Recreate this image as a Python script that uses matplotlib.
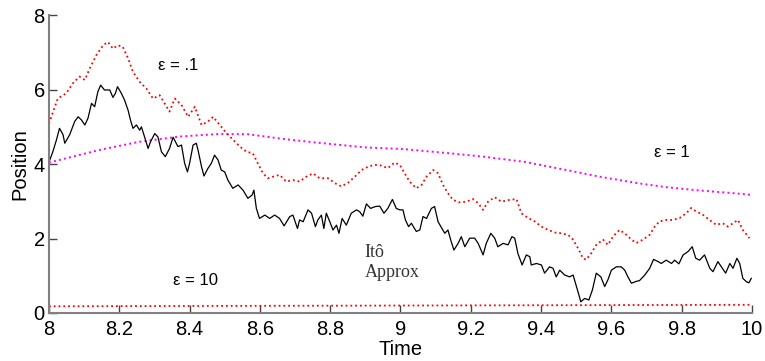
import matplotlib
matplotlib.use("Agg")
import matplotlib.pyplot as plt

# Itô approximation (black, noisy)
ito_t = [8.000, 8.011, 8.021, 8.030, 8.040, 8.045, 8.059, 8.073, 8.083, 8.092,
         8.102, 8.111, 8.121, 8.130, 8.139, 8.147, 8.158, 8.173, 8.182, 8.189,
         8.195, 8.206, 8.215, 8.225, 8.232, 8.239, 8.249, 8.258, 8.263, 8.272,
         8.282, 8.289, 8.301, 8.310, 8.320, 8.331, 8.343, 8.353, 8.367, 8.377,
         8.386, 8.394, 8.400, 8.410, 8.419, 8.424, 8.434, 8.441, 8.452, 8.462,
         8.471, 8.481, 8.490, 8.500, 8.509, 8.523, 8.538, 8.552, 8.566, 8.578,
         8.583, 8.590, 8.599, 8.614, 8.628, 8.642, 8.656, 8.669, 8.685, 8.694,
         8.707, 8.713, 8.723, 8.737, 8.747, 8.758, 8.765, 8.775, 8.782, 8.789,
         8.799, 8.808, 8.818, 8.825, 8.834, 8.846, 8.860, 8.875, 8.884, 8.893,
         8.903, 8.915, 8.929, 8.941, 8.953, 8.964, 8.977, 8.988, 8.998, 9.007,
         9.014, 9.023, 9.031, 9.045, 9.055, 9.064, 9.074, 9.088, 9.097, 9.107,
         9.118, 9.126, 9.135, 9.143, 9.152, 9.164, 9.173, 9.183, 9.197, 9.211,
         9.221, 9.235, 9.244, 9.257, 9.268, 9.277, 9.292, 9.306, 9.317, 9.325,
         9.334, 9.346, 9.358, 9.368, 9.372, 9.387, 9.401, 9.410, 9.424, 9.434,
         9.443, 9.453, 9.467, 9.481, 9.491, 9.505, 9.513, 9.524, 9.536, 9.546,
         9.557, 9.570, 9.581, 9.590, 9.600, 9.614, 9.628, 9.638, 9.647, 9.657,
         9.671, 9.680, 9.695, 9.709, 9.720, 9.733, 9.742, 9.756, 9.771, 9.780,
         9.792, 9.804, 9.818, 9.830, 9.840, 9.851, 9.865, 9.880, 9.889, 9.903,
         9.913, 9.925, 9.937, 9.946, 9.957, 9.965, 9.974, 9.984, 9.991, 9.998]
ito_x = [4.05, 4.33, 4.64, 4.96, 4.79, 4.56, 4.79, 5.14, 5.27, 5.19,
         5.05, 5.23, 5.63, 5.54, 5.94, 6.12, 5.99, 5.99, 5.79, 5.90,
         6.08, 5.90, 5.72, 5.45, 5.18, 4.96, 5.05, 4.91, 5.00, 4.73,
         4.42, 4.60, 4.82, 4.73, 4.33, 4.20, 4.42, 4.72, 4.47, 4.51,
         4.02, 3.79, 4.02, 4.51, 4.56, 4.38, 3.93, 3.68, 3.88, 4.02,
         4.24, 4.11, 3.84, 3.79, 3.57, 3.35, 3.44, 3.30, 3.08, 3.17,
         3.30, 2.81, 2.54, 2.63, 2.54, 2.63, 2.54, 2.34, 2.59, 2.63,
         2.27, 2.50, 2.45, 2.77, 2.68, 2.32, 2.50, 2.63, 2.27, 2.68,
         2.45, 2.23, 2.36, 2.14, 2.54, 2.36, 2.68, 2.77, 2.72, 2.60,
         2.93, 2.81, 2.86, 2.87, 2.68, 2.81, 3.05, 2.81, 2.77, 2.77,
         2.50, 2.32, 2.41, 2.19, 2.23, 2.59, 2.54, 2.81, 2.86, 2.45,
         2.27, 2.14, 2.23, 1.96, 1.69, 1.87, 2.05, 1.78, 2.01, 2.01,
         1.87, 1.56, 1.87, 2.14, 2.01, 1.78, 1.87, 1.83, 2.05, 2.01,
         1.60, 1.29, 1.56, 1.51, 1.29, 1.33, 1.29, 1.07, 1.24, 1.20,
         0.97, 1.15, 1.02, 0.97, 1.02, 0.57, 0.30, 0.39, 0.35, 0.62,
         1.07, 0.97, 0.71, 0.89, 1.15, 1.24, 1.24, 1.15, 0.97, 0.80,
         0.85, 0.87, 1.02, 1.20, 1.44, 1.38, 1.33, 1.42, 1.33, 1.42,
         1.32, 1.56, 1.65, 1.78, 1.47, 1.42, 1.56, 1.20, 1.11, 1.38,
         1.24, 1.07, 1.33, 1.20, 1.47, 1.33, 0.93, 0.84, 0.81, 0.93]

# epsilon = .1 (red dotted)
eps01_t = [8.000, 8.010, 8.025, 8.049, 8.068, 8.087, 8.102, 8.116, 8.135, 8.154,
           8.168, 8.182, 8.196, 8.210, 8.225, 8.239, 8.258, 8.277, 8.296, 8.315,
           8.329, 8.343, 8.358, 8.377, 8.396, 8.415, 8.434, 8.452, 8.467, 8.486,
           8.505, 8.524, 8.543, 8.562, 8.580, 8.594, 8.609, 8.623, 8.637, 8.656,
           8.675, 8.694, 8.713, 8.732, 8.751, 8.770, 8.794, 8.813, 8.832, 8.851,
           8.870, 8.889, 8.908, 8.926, 8.945, 8.964, 8.983, 8.998, 9.012, 9.026,
           9.045, 9.060, 9.074, 9.093, 9.107, 9.121, 9.135, 9.149, 9.168, 9.187,
           9.206, 9.221, 9.235, 9.249, 9.268, 9.287, 9.311, 9.330, 9.344, 9.363,
           9.382, 9.401, 9.420, 9.440, 9.458, 9.477, 9.491, 9.505, 9.519, 9.528,
           9.543, 9.557, 9.576, 9.590, 9.605, 9.623, 9.638, 9.657, 9.671, 9.690,
           9.709, 9.723, 9.737, 9.756, 9.775, 9.794, 9.813, 9.827, 9.841, 9.860,
           9.879, 9.898, 9.917, 9.931, 9.946, 9.960, 9.974, 9.993]
eps01_x = [5.09, 5.36, 5.76, 5.90, 6.17, 6.35, 6.26, 6.57, 6.93, 7.19,
           7.28, 7.10, 7.19, 7.15, 6.84, 6.48, 6.21, 6.03, 5.76, 5.85,
           5.63, 5.41, 5.76, 5.59, 5.27, 5.54, 5.05, 5.14, 5.27, 5.05,
           4.83, 4.65, 4.47, 4.33, 4.29, 4.02, 3.75, 3.62, 3.66, 3.71,
           3.53, 3.57, 3.53, 3.66, 3.75, 3.62, 3.62, 3.49, 3.40, 3.50,
           3.66, 3.84, 3.93, 3.98, 3.96, 3.89, 4.04, 3.98, 3.75, 3.53,
           3.35, 3.44, 3.66, 3.84, 3.75, 3.44, 3.22, 3.04, 2.97, 2.99,
           3.06, 2.95, 2.77, 2.99, 3.11, 2.99, 3.04, 3.06, 2.68, 2.55,
           2.46, 2.32, 2.23, 2.16, 2.14, 2.10, 1.97, 1.74, 1.47, 1.43,
           1.61, 1.83, 1.97, 1.83, 2.06, 2.23, 2.14, 1.97, 1.88, 1.97,
           2.10, 2.32, 2.46, 2.50, 2.50, 2.55, 2.68, 2.82, 2.73, 2.64,
           2.50, 2.37, 2.41, 2.32, 2.41, 2.50, 2.23, 2.01]

# epsilon = 1 (magenta dotted)
eps1_t = [8.0, 8.144, 8.258, 8.372, 8.486, 8.568, 8.671, 8.758, 8.897, 9.012,
          9.14, 9.235, 9.353, 9.472, 9.567, 9.68, 9.756, 9.851, 9.946, 10.0]
eps1_x = [4.04, 4.38, 4.60, 4.74, 4.81, 4.80, 4.67, 4.58, 4.45, 4.40,
          4.29, 4.20, 4.06, 3.84, 3.66, 3.48, 3.38, 3.29, 3.22, 3.17]

# epsilon = 10 (red dotted, near zero)
eps10_t = [8.0, 9.0, 10.0]
eps10_x = [0.18, 0.20, 0.22]

xticks = [8, 8.2, 8.4, 8.6, 8.8, 9, 9.2, 9.4, 9.6, 9.8, 10]
xticklabels = ["8", "8.2", "8.4", "8.6", "8.8", "9", "9.2", "9.4", "9.6", "9.8", "10"]
yticks = [0, 2, 4, 6, 8]

plt.rcParams['font.family'] = ['Liberation Sans', 'DejaVu Sans']

fig = plt.figure(figsize=(7.65, 3.61), dpi=100)
ax = fig.add_axes([0.064, 0.133, 0.919, 0.825])

ax.plot(eps10_t, eps10_x, color='#ff0000', linestyle=':', linewidth=1.3)
ax.plot(eps1_t, eps1_x, color='#ff00ff', linestyle=':', linewidth=1.4)
ax.plot(eps01_t, eps01_x, color='#ff0000', linestyle=':', linewidth=1.3)
ax.plot(ito_t, ito_x, color='black', linewidth=0.9)

ax.set_xlim(8, 10)
ax.set_ylim(0, 8)
ax.set_xticks(xticks)
ax.set_xticklabels(xticklabels)
ax.set_yticks(yticks)
ax.tick_params(direction='in', length=6, width=1, colors='#444444',
               labelcolor='black', labelsize=14.5)
ax.tick_params(axis='x', pad=5)
ax.tick_params(axis='y', pad=3)

for side in ['top', 'right']:
    ax.spines[side].set_visible(False)
for side in ['left', 'bottom']:
    ax.spines[side].set_color('#808080')
    ax.spines[side].set_linewidth(1.5)

ax.set_xlabel("Time", fontsize=14.5, labelpad=1)
ax.set_ylabel("Position", fontsize=14.5, labelpad=3)

ax.text(8.31, 6.66, "ε = .1", fontsize=12, va='center', ha='left')
ax.text(9.72, 4.32, "ε = 1", fontsize=12, va='center', ha='left')
ax.text(8.352, 0.86, "ε = 10", fontsize=12, va='center', ha='left')
ax.text(8.898, 1.85, "Itô\nApprox", fontsize=13, va='top', ha='left',
        family=['Liberation Serif', 'DejaVu Serif'], color='#333333',
        linespacing=1.25)

fig.savefig("out.png", dpi=100)
